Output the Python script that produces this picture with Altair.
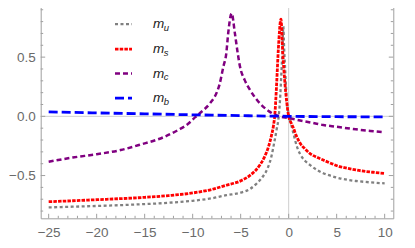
import altair as alt
import pandas as pd

# ---- data ----
u_x = [-25, -22.5, -20, -17.5, -15, -12.5, -10, -8, -6.5, -5, -4, -3.3, -2.7, -2.2, -1.8, -1.5, -1.25, -1.05,
       -0.9, -0.75, -0.65, -0.56, -0.47, -0.38, -0.2, 0, 0.2, 0.5, 0.8, 1.2, 1.7, 2.2, 3, 3.6, 4.5, 5.3, 6.2, 7, 8, 9, 10]
u_y = [-0.769, -0.763, -0.757, -0.750, -0.741, -0.730, -0.713, -0.692, -0.666, -0.645, -0.612, -0.565, -0.51, -0.44,
       -0.34, -0.22, -0.11, -0.01, 0.138, 0.38, 0.55, 0.76, 0.57, 0.42, 0.14, 0.02, -0.05, -0.145, -0.24, -0.32, -0.375,
       -0.41, -0.455, -0.48, -0.505, -0.523, -0.537, -0.546, -0.554, -0.561, -0.566]

s_x = [-25, -22.5, -20, -17.5, -15, -12.5, -10, -8, -6.5, -5, -4, -3, -2.5, -2.1, -1.8, -1.6, -1.43, -1.25, -1.08,
       -0.8, -0.63, -0.39, -0.2, 0, 0.25, 0.5, 0.8, 1.2, 1.7, 2.2, 3, 3.6, 4.5, 5.3, 6.2, 7, 8, 9, 10]
s_y = [-0.721, -0.713, -0.704, -0.695, -0.684, -0.669, -0.647, -0.617, -0.582, -0.545, -0.497, -0.411, -0.34, -0.257,
       -0.165, -0.088, 0.025, 0.28, 0.56, 0.82, 0.56, 0.28, 0.12, 0.0, -0.055, -0.10, -0.165, -0.228, -0.275, -0.313,
       -0.348, -0.369, -0.40, -0.424, -0.44, -0.453, -0.465, -0.474, -0.482]

c_x = [-25, -22.5, -20, -17.5, -15.5, -13, -11.5, -10.5, -9.7, -9.2, -8.2, -7.5, -7.2, -6.8, -6.5, -6.3, -5.94,
       -5.6, -5.3, -5.07, -4.6, -4.0, -3.0, -2.0, -1.0, 0, 1.2, 2.5, 3.6, 5, 7, 8.5, 10]
c_y = [-0.383, -0.348, -0.32, -0.285, -0.24, -0.175, -0.115, -0.065, -0.005, 0.03, 0.11, 0.20, 0.27, 0.42, 0.53,
       0.70, 0.87, 0.70, 0.53, 0.42, 0.31, 0.22, 0.11, 0.04, 0.0, -0.015, -0.035, -0.055, -0.073, -0.088, -0.11,
       -0.123, -0.135]

b_x = [-25, -20, -15, -10, -5, 0, 5, 10]
b_y = [0.037, 0.029, 0.021, 0.013, 0.006, 0.0, -0.003, -0.004]

x_major = [-25, -20, -15, -10, -5, 0, 5, 10]
x_minor = [v for v in range(-25, 11) if v % 5 != 0]
y_major = [-0.5, 0.0, 0.5]
y_minor = [-0.8, -0.7, -0.6, -0.4, -0.3, -0.2, -0.1, 0.1, 0.2, 0.3, 0.4, 0.6, 0.7, 0.8, 0.9]

legend_subs = ["u", "s", "c", "b"]

# ---- layout / style ----
XMIN, XMAX = -25.83, 10.9
YMIN, YMAX = -0.861, 0.974
W, H = 352.6, 217.3
FRAME = "#a0a0a0"
LABEL = "#6a6a6a"
ZERO = "#cfcfcf"
FONT = "Liberation Sans"

xs = alt.Scale(domain=[XMIN, XMAX], nice=False, zero=False)
ys = alt.Scale(domain=[YMIN, YMAX], nice=False, zero=False)

x_axis = alt.Axis(values=x_major, domain=False, ticks=False, grid=False, title=None,
                  labelFont=FONT, labelFontSize=13.5, labelColor=LABEL, labelPadding=7,
                  labelFlush=False, labelOverlap=False, format="d")
y_axis = alt.Axis(values=y_major, domain=False, ticks=False, grid=False, title=None,
                  labelFont=FONT, labelFontSize=13.5, labelColor=LABEL, labelPadding=5.5,
                  labelFlush=False, labelOverlap=False, format=".1f")


def X(field):
    return alt.X(field, scale=xs, axis=x_axis, title=None)


def Y(field):
    return alt.Y(field, scale=ys, axis=y_axis, title=None)


styles = [
    ("#808080", [3, 2.5], 2.3),
    ("#ff0000", [3.5, 1.2], 2.8),
    ("#800080", [5, 3], 2.5),
    ("#0000ff", [9, 4], 2.8),
]


def curve(xv, yv, color, dash, width):
    df = pd.DataFrame({"x": xv, "y": yv})
    return alt.Chart(df).mark_line(
        color=color, strokeDash=dash, strokeWidth=width, interpolate="monotone",
        clip=True, strokeCap="butt"
    ).encode(x=X("x:Q"), y=Y("y:Q"))


# zero axes
vzero = alt.Chart(pd.DataFrame({"v": [0]})).mark_rule(color=ZERO, strokeWidth=1).encode(
    x=X("v:Q"), y=alt.value(0), y2=alt.value(H))
hzero = alt.Chart(pd.DataFrame({"v": [0]})).mark_rule(color=ZERO, strokeWidth=1).encode(
    y=Y("v:Q"), x=alt.value(0), x2=alt.value(W))


def xticks(vals, length):
    df = pd.DataFrame({"t": vals})
    base = alt.Chart(df).mark_rule(color=FRAME, strokeWidth=1)
    return [
        base.encode(x=X("t:Q"), y=alt.value(H), y2=alt.value(H - length)),
        base.encode(x=X("t:Q"), y=alt.value(0), y2=alt.value(length)),
    ]


def yticks(vals, length):
    df = pd.DataFrame({"t": vals})
    base = alt.Chart(df).mark_rule(color=FRAME, strokeWidth=1)
    return [
        base.encode(y=Y("t:Q"), x=alt.value(0), x2=alt.value(length)),
        base.encode(y=Y("t:Q"), x=alt.value(W), x2=alt.value(W - length)),
    ]


layers = [vzero, hzero]
layers += xticks(x_major, 4.5) + xticks(x_minor, 2.5)
layers += yticks(y_major, 4.5) + yticks(y_minor, 2.5)

series = [(u_x, u_y), (s_x, s_y), (c_x, c_y), (b_x, b_y)]
for (xv, yv), (col, dash, wd) in zip(series, styles):
    layers.append(curve(xv, yv, col, dash, wd))

# manual legend
rows = [23.2, 48.2, 72.4, 97.2]
dummy = pd.DataFrame({"k": [0]})
for sub, row, (col, dash, wd) in zip(legend_subs, rows, styles):
    layers.append(alt.Chart(dummy).mark_rule(color=col, strokeDash=dash, strokeWidth=wd, strokeCap="butt").encode(
        x=alt.value(74.3), x2=alt.value(91.3), y=alt.value(row)))
    layers.append(alt.Chart(dummy).mark_text(
        text="m", font=FONT, fontStyle="italic", fontSize=13.5, color="#222222",
        align="left", baseline="alphabetic").encode(x=alt.value(112.4), y=alt.value(row + 4.2)))
    layers.append(alt.Chart(dummy).mark_text(
        text=sub, font=FONT, fontStyle="italic", fontSize=9.5, color="#222222",
        align="left", baseline="alphabetic").encode(x=alt.value(123.0), y=alt.value(row + 6.8)))

chart = alt.layer(*layers).properties(
    width=W, height=H,
    autosize=alt.AutoSizeParams(type="none"),
    padding={"left": 32.7, "top": -7, "right": 6, "bottom": 26},
).configure_view(stroke=FRAME, strokeWidth=1)

chart.save("out.html", embed_options={"renderer": "svg", "actions": False})
